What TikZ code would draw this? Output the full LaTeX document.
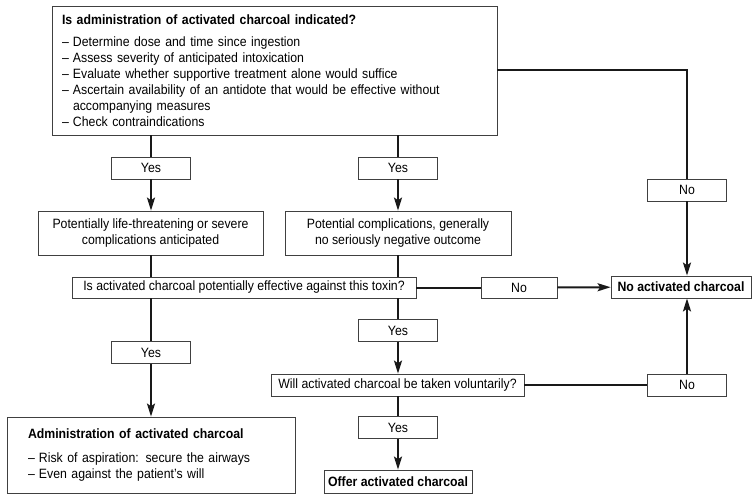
\documentclass[tikz,border=0pt]{standalone}
\usepackage{fontspec}
\setmainfont{Liberation Sans}[FakeStretch=0.91]
\usetikzlibrary{arrows.meta}
\newcommand\dsh{\makebox[11pt][l]{–}}
\begin{document}
\begin{tikzpicture}[x=1pt,y=-1pt,
  box/.style={draw=black!75, line width=0.8pt, fill=white, inner sep=0pt, align=center, font=\fontsize{13.5}{16}\selectfont},
  lbl/.style={box, minimum width=79pt, minimum height=22pt},
  flow/.style={line width=2pt, draw=black!90},
  arr/.style={flow, -{Stealth[length=13pt,width=8pt,inset=2.5pt]}}]
\useasboundingbox (0,0) rectangle (756,500);

\node[box, minimum width=445pt, minimum height=129pt, text width=425pt, align=left] (top) at (274.5,70.5)
 {{\bfseries Is administration of activated charcoal indicated?}\\[6pt]
  \dsh Determine dose and time since ingestion\\
  \dsh Assess severity of anticipated intoxication\\
  \dsh Evaluate whether supportive treatment alone would suffice\\
  \dsh Ascertain availability of an antidote that would be effective without\\
  \hspace*{11pt}accompanying measures\\
  \dsh Check contraindications};

\node[lbl] (yesL1) at (151,168) {Yes};
\node[lbl] (yesM1) at (398,168) {Yes};
\node[box, minimum width=225pt, minimum height=44pt] (life) at (150.5,233) {Potentially life-threatening or severe\\complications anticipated};
\node[box, minimum width=226pt, minimum height=44pt] (comp) at (398,233) {Potential complications, generally\\no seriously negative outcome};
\node[box, minimum width=344pt, minimum height=21pt] (eff) at (244,287.5) {Is activated charcoal potentially effective against this toxin?};
\node[box, minimum width=76pt, minimum height=21pt] (no1) at (519,287.5) {No};
\node[box, minimum width=140pt, minimum height=22pt, font=\fontsize{13.5}{16}\selectfont\bfseries] (noac) at (681,287) {No activated charcoal};
\node[lbl] (noR1) at (687,190) {No};
\node[lbl] (yesL2) at (151,352.5) {Yes};
\node[lbl] (yesM2) at (398,330.5) {Yes};
\node[box, minimum width=253pt, minimum height=22pt] (will) at (397.5,385) {Will activated charcoal be taken voluntarily?};
\node[lbl] (noR2) at (687,385) {No};
\node[lbl] (yesM3) at (398,427.5) {Yes};
\node[box, minimum width=148pt, minimum height=23pt, font=\fontsize{13.5}{16}\selectfont\bfseries] (offer) at (398,481.5) {Offer activated charcoal};
\node[box, minimum width=288pt, minimum height=76pt, text width=246pt, align=left] (admin) at (151,455)
 {{\bfseries Administration of activated charcoal}\\[8pt]
  \dsh Risk of aspiration: secure the airways\\
  \dsh Even against the patient’s will};

% left column
\draw[flow] (yesL1|-top.south) -- (yesL1.north);
\draw[arr] (yesL1) -- (yesL1|-life.north);
\draw[flow] (yesL1|-life.south) -- (yesL1|-eff.north);
\draw[flow] (yesL1|-eff.south) -- (yesL2.north);
\draw[arr] (yesL2) -- (yesL2|-admin.north);
% middle column
\draw[flow] (yesM1|-top.south) -- (yesM1.north);
\draw[arr] (yesM1) -- (yesM1|-comp.north);
\draw[flow] (yesM1|-comp.south) -- (yesM1|-eff.north);
\draw[flow] (yesM2|-eff.south) -- (yesM2.north);
\draw[arr] (yesM2) -- (yesM2|-will.north);
\draw[flow] (yesM3|-will.south) -- (yesM3.north);
\draw[arr] (yesM3) -- (yesM3|-offer.north);
% right side
\draw[flow] (top.east) -| (noR1.north);
\draw[arr] (noR1) -- (noR1|-noac.north);
\draw[flow] (eff.east) -- (no1.west);
\draw[arr] (no1) -- (noac);
\draw[flow] (will.east) -- (noR2.west);
\draw[arr] (noR2) -- (noR2|-noac.south);
\end{tikzpicture}
\end{document}
